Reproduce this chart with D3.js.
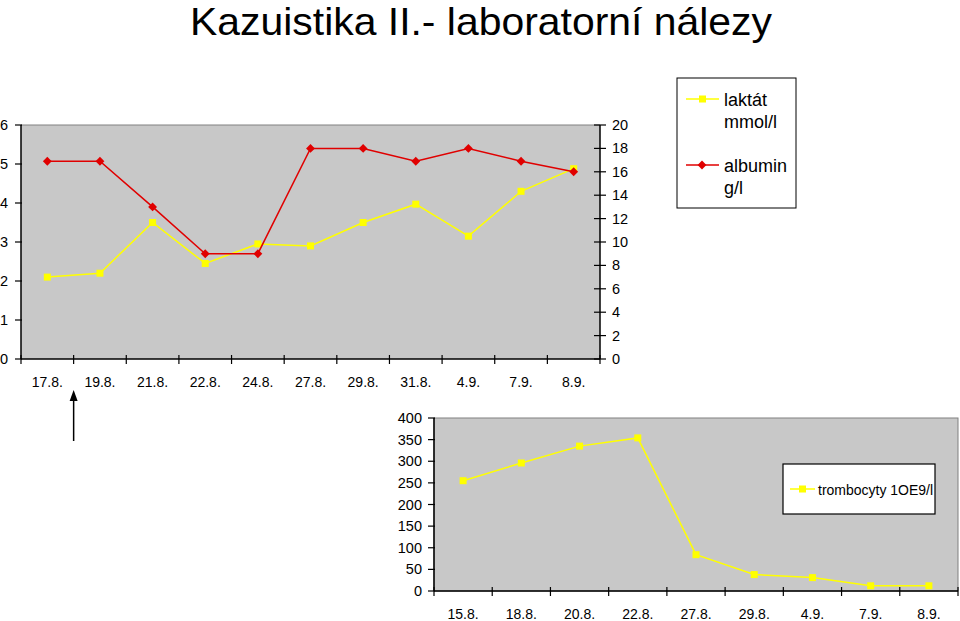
<!DOCTYPE html>
<html>
<head>
<meta charset="utf-8">
<script src="https://cdn.jsdelivr.net/npm/d3@7"></script>
<style>
  body { margin: 0; background: #fff; }
  svg { display: block; font-family: "Liberation Sans", Arial, sans-serif; }
</style>
</head>
<body>
<div id="chart"></div>
<script>
// top chart data
const topDates = ['17.8.', '19.8.', '21.8.', '22.8.', '24.8.', '27.8.', '29.8.', '31.8.', '4.9.', '7.9.', '8.9.'];
const laktat = [2.1, 2.2, 3.5, 2.45, 2.95, 2.9, 3.5, 3.97, 3.15, 4.3, 4.88];
const albumin = [16.9, 16.9, 13, 9, 9, 18, 18, 16.9, 18, 16.9, 16];
const leftTicks = [0, 1, 2, 3, 4, 5, 6];
const rightTicks = [0, 2, 4, 6, 8, 10, 12, 14, 16, 18, 20];

// bottom chart data
const bottomDates = ['15.8.', '18.8.', '20.8.', '22.8.', '27.8.', '29.8.', '4.9.', '7.9.', '8.9.'];
const trombocyty = [255, 296, 335, 354, 84, 38, 31, 12, 12];
const bottomTicks = [0, 50, 100, 150, 200, 250, 300, 350, 400];

const W = 960, H = 621;
const plotFill = '#c8c8c8';
const yellow = '#ffff00';
const red = '#e00000';

const svg = d3.select('#chart').append('svg')
  .attr('width', W)
  .attr('height', H);

// title
svg.append('text')
  .attr('x', 481)
  .attr('y', 35)
  .attr('text-anchor', 'middle')
  .attr('textLength', 582)
  .attr('lengthAdjust', 'spacingAndGlyphs')
  .style('font-size', '39px')
  .text('Kazuistika II.- laboratorní nálezy');

// draws x axis with ticks on band boundaries and labels at centres
function bandAxis(g, x, y0, labelY) {
  g.append('line')
    .attr('x1', x.range()[0]).attr('x2', x.range()[1])
    .attr('y1', y0).attr('y2', y0)
    .attr('stroke', '#000').attr('stroke-width', 1.5);
  const bounds = d3.range(x.domain().length + 1).map(i => x.range()[0] + i * x.step());
  g.selectAll('.xt').data(bounds).join('line')
    .attr('x1', d => d).attr('x2', d => d)
    .attr('y1', y0 - 4).attr('y2', y0 + 5)
    .attr('stroke', '#000').attr('stroke-width', 1.2);
  g.selectAll('.xl').data(x.domain()).join('text')
    .attr('x', d => x(d) + x.bandwidth() / 2)
    .attr('y', labelY)
    .attr('text-anchor', 'middle')
    .style('font-size', '14px')
    .text(d => d);
}

function yAxis(g, y, ticks, x0, side, labelX) {
  g.append('line')
    .attr('x1', x0).attr('x2', x0)
    .attr('y1', y.range()[0]).attr('y2', y.range()[1])
    .attr('stroke', '#000').attr('stroke-width', 1.5);
  g.selectAll('.yt').data(ticks).join('line')
    .attr('x1', x0 - 6)
    .attr('x2', side === 'left' ? x0 + 1 : x0 + 6)
    .attr('y1', d => y(d)).attr('y2', d => y(d))
    .attr('stroke', '#000').attr('stroke-width', 1.2);
  g.selectAll('.yl').data(ticks).join('text')
    .attr('x', labelX)
    .attr('y', d => y(d) + 5)
    .attr('text-anchor', side === 'left' ? 'end' : 'start')
    .style('font-size', '14.5px')
    .text(d => d);
}

function square(g, pts, color) {
  g.selectAll('.sq').data(pts).join('rect')
    .attr('x', d => d[0] - 3.5).attr('y', d => d[1] - 3.5)
    .attr('width', 7).attr('height', 7)
    .attr('fill', color);
}

// ---------- top chart ----------
const topM = { l: 21, r: 600, t: 125, b: 359 };
const xTop = d3.scaleBand().domain(topDates).range([topM.l, topM.r]).padding(0);
const yLeft = d3.scaleLinear().domain([0, 6]).range([topM.b, topM.t]);
const yRight = d3.scaleLinear().domain([0, 20]).range([topM.b, topM.t]);
const gTop = svg.append('g');

gTop.append('rect')
  .attr('x', topM.l).attr('y', topM.t)
  .attr('width', topM.r - topM.l).attr('height', topM.b - topM.t)
  .attr('fill', plotFill);
gTop.append('line')
  .attr('x1', topM.l).attr('x2', topM.r).attr('y1', topM.t).attr('y2', topM.t)
  .attr('stroke', '#808080');

const cx = (x, d) => x(d) + x.bandwidth() / 2;
const lakPts = topDates.map((d, i) => [cx(xTop, d), yLeft(laktat[i])]);
const albPts = topDates.map((d, i) => [cx(xTop, d), yRight(albumin[i])]);

gTop.append('path')
  .attr('d', d3.line()(lakPts))
  .attr('fill', 'none').attr('stroke', yellow).attr('stroke-width', 1.5);
square(gTop.append('g'), lakPts, yellow);

gTop.append('path')
  .attr('d', d3.line()(albPts))
  .attr('fill', 'none').attr('stroke', red).attr('stroke-width', 1.5);
gTop.append('g').selectAll('path').data(albPts).join('path')
  .attr('d', d3.symbol().type(d3.symbolDiamond2).size(50))
  .attr('transform', d => `translate(${d[0]},${d[1]})`)
  .attr('fill', red);

yAxis(gTop.append('g'), yLeft, leftTicks, topM.l, 'left', 8);
yAxis(gTop.append('g'), yRight, rightTicks, topM.r, 'right', 612);
bandAxis(gTop.append('g'), xTop, topM.b, 387);

// arrow under 19.8. tick
const arrowX = xTop.range()[0] + xTop.step();
svg.append('line')
  .attr('x1', arrowX).attr('x2', arrowX)
  .attr('y1', 398).attr('y2', 441)
  .attr('stroke', '#000').attr('stroke-width', 1.5);
svg.append('path')
  .attr('d', `M${arrowX},390 L${arrowX - 4},401 L${arrowX + 4},401 Z`)
  .attr('fill', '#000');

// top legend
const lg = svg.append('g');
lg.append('rect')
  .attr('x', 677).attr('y', 78).attr('width', 119).attr('height', 130)
  .attr('fill', '#fff').attr('stroke', '#000').attr('stroke-width', 1);
lg.append('line').attr('x1', 686).attr('x2', 719).attr('y1', 99).attr('y2', 99)
  .attr('stroke', yellow).attr('stroke-width', 1.5);
lg.append('rect').attr('x', 699).attr('y', 95.5).attr('width', 7).attr('height', 7).attr('fill', yellow);
lg.append('line').attr('x1', 686).attr('x2', 719).attr('y1', 165).attr('y2', 165)
  .attr('stroke', red).attr('stroke-width', 1.5);
lg.append('path').attr('d', d3.symbol().type(d3.symbolDiamond2).size(50))
  .attr('transform', 'translate(702,165)').attr('fill', red);
[['laktát', 106], ['mmol/l', 128], ['albumin', 172], ['g/l', 194]].forEach(([t, y]) => {
  lg.append('text').attr('x', 724).attr('y', y).style('font-size', '18px').text(t);
});

// ---------- bottom chart ----------
const botM = { l: 434, r: 958, t: 418, b: 591 };
const xBot = d3.scaleBand().domain(bottomDates).range([botM.l, botM.r]).padding(0);
const yBot = d3.scaleLinear().domain([0, 400]).range([botM.b, botM.t]);
const gBot = svg.append('g');

gBot.append('rect')
  .attr('x', botM.l).attr('y', botM.t)
  .attr('width', botM.r - botM.l).attr('height', botM.b - botM.t)
  .attr('fill', plotFill).attr('stroke', '#808080').attr('stroke-width', 1);

const trPts = bottomDates.map((d, i) => [cx(xBot, d), yBot(trombocyty[i])]);
gBot.append('path')
  .attr('d', d3.line()(trPts))
  .attr('fill', 'none').attr('stroke', yellow).attr('stroke-width', 1.5);
square(gBot.append('g'), trPts, yellow);

yAxis(gBot.append('g'), yBot, bottomTicks, botM.l, 'left', 422);
bandAxis(gBot.append('g'), xBot, botM.b, 619);

// bottom legend
const lb = svg.append('g');
lb.append('rect')
  .attr('x', 783).attr('y', 464).attr('width', 152).attr('height', 50)
  .attr('fill', '#fff').attr('stroke', '#000').attr('stroke-width', 1.2);
lb.append('line').attr('x1', 790).attr('x2', 815).attr('y1', 489).attr('y2', 489)
  .attr('stroke', yellow).attr('stroke-width', 1.5);
lb.append('rect').attr('x', 799).attr('y', 485.5).attr('width', 7).attr('height', 7).attr('fill', yellow);
lb.append('text').attr('x', 818).attr('y', 495)
  .style('font-size', '14px').attr('textLength', 115).attr('lengthAdjust', 'spacingAndGlyphs')
  .text('trombocyty 1OE9/l');
</script>
</body>
</html>
